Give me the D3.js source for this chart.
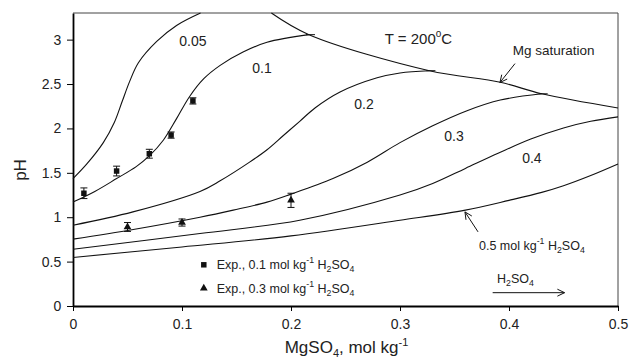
<!DOCTYPE html>
<html><head><meta charset="utf-8">
<script src="https://cdn.jsdelivr.net/npm/d3@7"></script>
<style>
html,body{margin:0;padding:0;background:#fff;}
svg{display:block;font-family:"Liberation Sans",Arial,Helvetica,sans-serif;}
</style></head>
<body><svg id="chart" width="630" height="361"></svg>
<script>
// ---- data ----
const xTicks = [0, 0.1, 0.2, 0.3, 0.4, 0.5];
const yTicks = [0, 0.5, 1, 1.5, 2, 2.5, 3];
const seriesNames = ["0.05", "0.1", "0.2", "0.3", "0.4", "0.5"];
const curve005 = [[0,1.435],[0.0127,1.60],[0.0278,1.84],[0.038,2.07],[0.045,2.30],[0.052,2.53],[0.06,2.74],[0.0768,2.98],[0.095,3.16],[0.117,3.30]];
const curve01 = [[0,1.17],[0.02,1.29],[0.04,1.435],[0.058,1.57],[0.07,1.69],[0.083,1.87],[0.095,2.11],[0.107,2.36],[0.12,2.56],[0.135,2.71],[0.156,2.86],[0.178,2.97],[0.2165,3.056]];
const curve02 = [[0,0.91],[0.055,1.06],[0.1165,1.29],[0.135,1.41],[0.162,1.62],[0.178,1.76],[0.193,1.92],[0.208,2.08],[0.222,2.23],[0.245,2.41],[0.279,2.57],[0.30,2.625],[0.327,2.65]];
const curve03 = [[0,0.753],[0.0553,0.862],[0.1165,1.0],[0.147,1.08],[0.178,1.17],[0.2,1.26],[0.2385,1.435],[0.27,1.62],[0.30,1.84],[0.33,2.03],[0.3615,2.20],[0.392,2.32],[0.430,2.39]];
const curve04 = [[0,0.64],[0.1165,0.817],[0.208,0.966],[0.30,1.25],[0.33,1.38],[0.36,1.55],[0.39,1.72],[0.42,1.88],[0.45,2.005],[0.475,2.08],[0.5,2.13]];
const curve05 = [[0,0.547],[0.1,0.665],[0.2,0.79],[0.3,0.966],[0.36,1.08],[0.4,1.19],[0.43,1.28],[0.45,1.355],[0.475,1.47],[0.5,1.60]];
const saturation = [[0.182,3.30],[0.2165,3.056],[0.327,2.65],[0.392,2.52],[0.430,2.39],[0.5,2.23]];
const exp01 = [[0.01,1.27,0.06],[0.04,1.52,0.055],[0.07,1.715,0.05],[0.09,1.925,0.035],[0.11,2.31,0.035]];
const exp03 = [[0.05,0.89,0.05],[0.1,0.94,0.04],[0.2,1.19,0.08]];

// ---- layout ----
const svg = d3.select("#chart");
const L = 73, R = 618, T = 13, B = 306;
const x = d3.scaleLinear().domain([0, 0.5]).range([L, R]);
const y = d3.scaleLinear().domain([0, 3.3]).range([B, T]);
const font = 14;

// frame top/right
svg.append("line").attr("x1", L).attr("x2", R).attr("y1", T).attr("y2", T).attr("stroke", "#444").attr("stroke-width", 1);
svg.append("line").attr("x1", R).attr("x2", R).attr("y1", T).attr("y2", B).attr("stroke", "#444").attr("stroke-width", 1);

// axes
const xAxis = svg.append("g").attr("transform", `translate(0,${B})`)
  .call(d3.axisBottom(x).tickValues(xTicks).tickFormat(d => d === 0 ? "0" : d3.format(".1f")(d)).tickSize(5).tickSizeOuter(0));
const yAxis = svg.append("g").attr("transform", `translate(${L},0)`)
  .call(d3.axisLeft(y).tickValues(yTicks).tickFormat(d => String(d)).tickSize(6).tickSizeOuter(0));
xAxis.select(".domain").attr("stroke", "#000").attr("stroke-width", 2.2);
yAxis.select(".domain").attr("stroke", "#000").attr("stroke-width", 1.8);
[xAxis, yAxis].forEach(g => {
  g.selectAll(".tick line").attr("stroke", "#000").attr("stroke-width", 1);
  g.selectAll(".tick text").attr("font-size", font).attr("fill", "#222").attr("font-family", "Liberation Sans, Arial, sans-serif");
});
xAxis.selectAll(".tick text").attr("dy", "1.05em");
yAxis.selectAll(".tick text").attr("dx", "-0.2em");

// axis titles
const xt = svg.append("text").attr("x", (x(0.2) + x(0.3)) / 2 + 1).attr("y", 353).attr("text-anchor", "middle").attr("font-size", 17).attr("fill", "#222");
xt.append("tspan").text("MgSO");
xt.append("tspan").text("4").attr("font-size", 11).attr("dy", 4);
xt.append("tspan").text(", mol kg").attr("dy", -4);
xt.append("tspan").text("-1").attr("font-size", 11).attr("dy", -7);
svg.append("text").attr("transform", "translate(26,170) rotate(-90)").attr("text-anchor", "middle")
  .attr("font-size", 17).attr("fill", "#222").text("pH");

// curves
const line = d3.line().x(d => x(d[0])).y(d => y(d[1])).curve(d3.curveCatmullRom.alpha(0.5));
const curves = [curve005, curve01, curve02, curve03, curve04, curve05];
svg.append("g").selectAll("path").data(curves).join("path")
  .attr("d", line).attr("fill", "none").attr("stroke", "#111").attr("stroke-width", 1.1);
svg.append("path").datum(saturation).attr("d", line).attr("fill", "none").attr("stroke", "#111").attr("stroke-width", 1.1);
// small end ticks where curves meet saturation
[curve01, curve02, curve03].forEach(c => {
  const e = c[c.length - 1];
  svg.append("line").attr("x1", x(e[0]) - 3).attr("x2", x(e[0]) + 6).attr("y1", y(e[1])).attr("y2", y(e[1]))
    .attr("stroke", "#111").attr("stroke-width", 1);
});

// curve labels
const labelPos = [[0.110, 2.99], [0.1734, 2.685], [0.267, 2.28], [0.3495, 1.92], [0.421, 1.663]];
labelPos.forEach((p, i) => {
  svg.append("text").attr("x", x(p[0])).attr("y", y(p[1])).attr("text-anchor", "middle")
    .attr("dominant-baseline", "central").attr("font-size", font).attr("fill", "#222").text(seriesNames[i]);
});

// error bars + markers
function errbars(data) {
  data.forEach(d => {
    const cx = x(d[0]), y1 = y(d[1] + d[2]), y2 = y(d[1] - d[2]);
    svg.append("line").attr("x1", cx).attr("x2", cx).attr("y1", y1).attr("y2", y2).attr("stroke", "#111").attr("stroke-width", 1);
    [y1, y2].forEach(yy => svg.append("line").attr("x1", cx - 3.5).attr("x2", cx + 3.5).attr("y1", yy).attr("y2", yy).attr("stroke", "#111").attr("stroke-width", 1));
  });
}
errbars(exp01); errbars(exp03);
const sq = d3.symbol().type(d3.symbolSquare).size(30);
const tri = d3.symbol().type(d3.symbolTriangle).size(26);
svg.append("g").selectAll("path").data(exp01).join("path")
  .attr("transform", d => `translate(${x(d[0])},${y(d[1])})`).attr("d", sq).attr("fill", "#111");
svg.append("g").selectAll("path").data(exp03).join("path")
  .attr("transform", d => `translate(${x(d[0])},${y(d[1])})`).attr("d", tri).attr("fill", "#111");

// legend
function chemText(g, px, py, parts, fs) {
  const t = g.append("text").attr("x", px).attr("y", py).attr("font-size", fs).attr("fill", "#222");
  let shift = 0;
  parts.forEach(p => {
    const ts = t.append("tspan").text(p[0]);
    const target = p[1] === "sub" ? 3 : p[1] === "sup" ? -6 : 0;
    ts.attr("dy", target - shift);
    shift = target;
    if (p[1]) ts.attr("font-size", fs * 0.7);
  });
  return t;
}
const legendItems = [["0.1", sq], ["0.3", tri]];
const legY = [0.464, 0.199];
legendItems.forEach((it, i) => {
  svg.append("path").attr("transform", `translate(${x(0.12)},${y(legY[i])})`).attr("d", it[1]).attr("fill", "#111");
  chemText(svg, x(0.1318), y(legY[i]) + 4.5, [["Exp., " + it[0] + " mol kg"], ["-1", "sup"], [" H"], ["2", "sub"], ["SO"], ["4", "sub"]], 12.5);
});

// annotations
const tt = svg.append("text").attr("x", x(0.286)).attr("y", y(3.01) + 5).attr("font-size", 15).attr("fill", "#222");
tt.append("tspan").text("T = 200");
tt.append("tspan").text("o").attr("font-size", 10).attr("dy", -7);
tt.append("tspan").text("C").attr("dy", 7);

svg.append("text").attr("x", x(0.441)).attr("y", y(2.876)).attr("text-anchor", "middle").attr("dominant-baseline", "central")
  .attr("font-size", 13.5).attr("fill", "#222").text("Mg saturation");

function arrow(x1, y1, x2, y2) {
  const X1 = x(x1), Y1 = y(y1), X2 = x(x2), Y2 = y(y2);
  svg.append("line").attr("x1", X1).attr("y1", Y1).attr("x2", X2).attr("y2", Y2).attr("stroke", "#111").attr("stroke-width", 1);
  const a = Math.atan2(Y2 - Y1, X2 - X1), h = 8, w = 0.45;
  const p1 = [X2 - h * Math.cos(a - w), Y2 - h * Math.sin(a - w)];
  const p2 = [X2 - h * Math.cos(a + w), Y2 - h * Math.sin(a + w)];
  svg.append("path").attr("d", `M${p1}L${X2},${Y2}L${p2}`).attr("fill", "none").attr("stroke", "#111").attr("stroke-width", 1);
}
arrow(0.4055, 2.73, 0.3917, 2.517);
arrow(0.3716, 0.835, 0.3596, 1.06);
arrow(0.385, 0.15, 0.451, 0.15);

chemText(svg, x(0.3725), y(0.685) + 4.5, [["0.5 mol kg"], ["-1", "sup"], [" H"], ["2", "sub"], ["SO"], ["4", "sub"]], 12.5);
chemText(svg, x(0.389), y(0.315) + 4.5, [["H"], ["2", "sub"], ["SO"], ["4", "sub"]], 12.5);
</script></body></html>
